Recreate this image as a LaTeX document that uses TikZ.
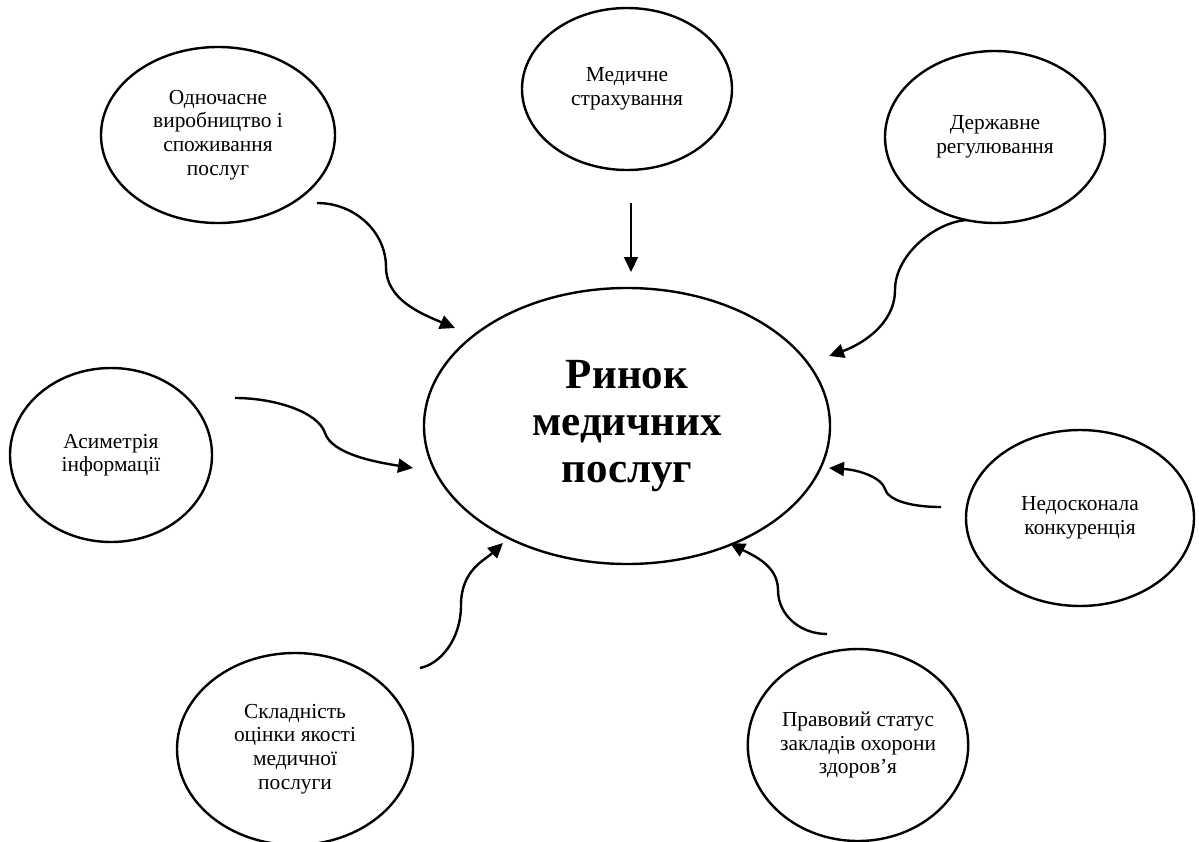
\documentclass[tikz,border=0pt]{standalone}
\usepackage{fontspec}
\setmainfont{Liberation Serif}
\usetikzlibrary{shapes.geometric,arrows.meta}
\begin{document}
\begin{tikzpicture}[x=0.5pt,y=-0.5pt,
  factor/.style={draw,ellipse,line width=1.2pt,inner sep=0pt,align=center,
    font=\fontsize{10.7}{11.8}\selectfont},
  core/.style={draw,ellipse,line width=1.2pt,inner sep=0pt,align=center,
    font=\fontsize{21.5}{23.5}\selectfont\bfseries},
  link/.style={line width=1.2pt,-{Triangle[length=7.5pt,width=7pt]}}]
\useasboundingbox (0,0) rectangle (1199,841);

% central ellipse
\node[core,minimum width=203pt,minimum height=138pt] (D) at (627,426)
  {Ринок\\медичних\\послуг};

% surrounding factors
\node[factor,minimum width=117pt,minimum height=88pt] (A) at (218,135)
  {Одночасне\\виробництво і\\споживання\\послуг};
\node[factor,minimum width=105pt,minimum height=81pt] (B) at (627,89)
  {Медичне\\страхування};
\node[factor,minimum width=110pt,minimum height=86pt] (C) at (995,137)
  {Державне\\регулювання};
\node[factor,minimum width=101pt,minimum height=87pt] (E) at (111,455)
  {Асиметрія\\інформації};
\node[factor,minimum width=114pt,minimum height=88pt] (F) at (1080,518)
  {Недосконала\\конкуренція};
\node[factor,minimum width=118pt,minimum height=96pt] (G) at (295,749)
  {Складність\\оцінки якості\\медичної\\послуги};
\node[factor,minimum width=110pt,minimum height=96pt] (H) at (858,745)
  {Правовий статус\\закладів охорони\\здоров’я};

% connector end points
\coordinate (a1) at (317,203); \coordinate (a2) at (386,267); \coordinate (a3) at (455,328);
\coordinate (b1) at (631,203); \coordinate (b2) at (631,272);
\coordinate (c1) at (967,220); \coordinate (c2) at (895,290); \coordinate (c3) at (829,356);
\coordinate (e1) at (235,398); \coordinate (e2) at (325,433); \coordinate (e3) at (413,468);
\coordinate (f1) at (941,507); \coordinate (f2) at (885,489); \coordinate (f3) at (829,468);
\coordinate (g1) at (420,668); \coordinate (g2) at (461,605); \coordinate (g3) at (503,543);
\coordinate (h1) at (827,634); \coordinate (h2) at (778,590); \coordinate (h3) at (730,543);

% connectors
\draw[link] (a1) .. controls (355,203) and (386,232) .. (a2)
                 .. controls (386,300) and (422,314) .. (a3);
\draw[link,line width=1pt] (b1) -- (b2);
\draw[link] (c1) .. controls (935,222) and (895,255) .. (c2)
                 .. controls (895,325) and (860,345) .. (c3);
\draw[link] (e1) .. controls (275,398) and (318,412) .. (e2)
                 .. controls (332,454) and (375,462) .. (e3);
\draw[link] (f1) .. controls (910,507) and (888,500) .. (f2)
                 .. controls (882,478) and (860,470) .. (f3);
\draw[link] (g1) .. controls (440,664) and (461,640) .. (g2)
                 .. controls (461,570) and (485,560) .. (g3);
\draw[link] (h1) .. controls (800,634) and (778,615) .. (h2)
                 .. controls (778,565) and (752,555) .. (h3);
\end{tikzpicture}
\end{document}
